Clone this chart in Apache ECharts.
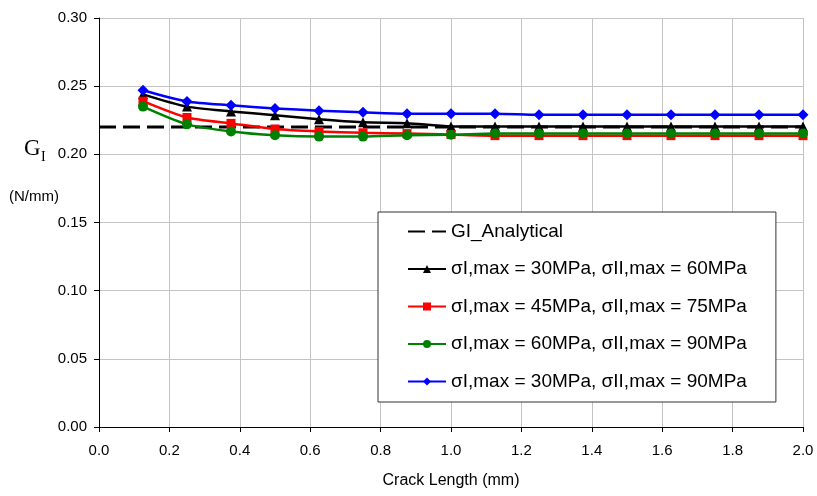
<!DOCTYPE html>
<html><head><meta charset="utf-8">
<script src="https://cdn.jsdelivr.net/npm/echarts@6/dist/echarts.min.js"></script>
<style>html,body{margin:0;padding:0;background:#fff}#c{width:817px;height:496px}</style>
</head><body><div id="c"></div>
<script>
const crackLength = [0.125,0.25,0.375,0.5,0.625,0.75,0.875,1.0,1.125,1.25,1.375,1.5,1.625,1.75,1.875,2.0];
const analyticalX = [0, 2.0];
const analyticalY = [0.22, 0.22];
const s30_60 = [0.244,0.235,0.2315,0.2287,0.2257,0.2235,0.2228,0.2205,0.2205,0.2205,0.2205,0.2205,0.2205,0.2205,0.2205,0.2205];
const s45_75 = [0.239,0.227,0.2227,0.2186,0.2168,0.2158,0.2152,0.2145,0.2137,0.2137,0.2137,0.2137,0.2137,0.2137,0.2137,0.2137];
const s60_90 = [0.235,0.222,0.2168,0.2140,0.2130,0.2130,0.2140,0.2143,0.2153,0.2153,0.2153,0.2153,0.2153,0.2153,0.2153,0.2153];
const s30_90 = [0.247,0.2388,0.236,0.2337,0.232,0.2308,0.2298,0.2298,0.2298,0.2290,0.2290,0.2290,0.2290,0.2290,0.2290,0.2290];
const names = ['GI_Analytical','σI,max = 30MPa, σII,max = 60MPa','σI,max = 45MPa, σII,max = 75MPa','σI,max = 60MPa, σII,max = 90MPa','σI,max = 30MPa, σII,max = 90MPa'];
const xTicks = [0,2.0,0.2];
const yTicks = [0,0.30,0.05];

const pair = (xs, ys) => xs.map((x,i)=>[x, ys[i]]);
const chart = echarts.init(document.getElementById('c'), null, {renderer:'canvas'});
const mk = (name, data, color, symbol, size) => ({
  name, type:'line', data: pair(crackLength, data), smooth: 0.25,
  symbol, symbolSize: size, showSymbol: true,
  lineStyle:{color, width:2.5}, itemStyle:{color}, z:3
});
chart.setOption({
  animation:false,
  textStyle:{fontFamily:'Liberation Sans, Arial, sans-serif'},
  grid:{left:99, right:14, top:18, bottom:69, containLabel:false, outerBoundsMode:'none'},
  xAxis:{type:'value', min:xTicks[0], max:xTicks[1], interval:xTicks[2],
    axisLine:{lineStyle:{color:'#000', width:1}},
    axisTick:{show:true, length:5, lineStyle:{color:'#000'}},
    axisLabel:{color:'#000', fontSize:15, margin:16, formatter:v=>v.toFixed(1)},
    splitLine:{show:true, lineStyle:{color:'#c4c4c4', width:1}},
    name:'Crack Length (mm)', nameLocation:'middle', nameGap:46,
    nameTextStyle:{color:'#000', fontSize:16}},
  yAxis:{type:'value', min:yTicks[0], max:yTicks[1], interval:yTicks[2],
    axisLine:{show:true, lineStyle:{color:'#000', width:1}},
    axisTick:{show:true, length:5, lineStyle:{color:'#000'}},
    axisLabel:{color:'#000', fontSize:15, margin:12, formatter:v=>v.toFixed(2)},
    splitLine:{show:true, lineStyle:{color:'#c4c4c4', width:1}}},
  legend:{orient:'vertical', left:378, top:212, padding:[10,29,11,29],
    itemGap:18.5, itemWidth:38, itemHeight:10,
    backgroundColor:'#fff', borderColor:'#333', borderWidth:1,
    textStyle:{fontSize:19, color:'#000'},
    data:[{name:names[0], itemStyle:{opacity:0}}, names[1], names[2], names[3], names[4]]},
  graphic:[
    {type:'text', left:24, top:137, style:{text:'G', font:'23px "Liberation Serif", serif', fill:'#000'}},
    {type:'text', left:41, top:150, style:{text:'I', font:'14px "Liberation Serif", serif', fill:'#000'}},
    {type:'text', left:9, top:189, style:{text:'(N/mm)', font:'15px "Liberation Sans", Arial, sans-serif', fill:'#000'}}
  ],
  series:[
    {name:names[0], type:'line', data:pair(analyticalX, analyticalY), symbol:'none',
      lineStyle:{color:'#000', width:3, type:[17,7]}, itemStyle:{color:'rgba(0,0,0,0)', borderWidth:0}, z:2},
    mk(names[1], s30_60, '#000000', 'triangle', 10),
    mk(names[2], s45_75, '#ff0000', 'rect', 9),
    mk(names[3], s60_90, '#008000', 'circle', 10),
    mk(names[4], s30_90, '#0000ff', 'diamond', 11)
  ]
});
</script></body></html>
